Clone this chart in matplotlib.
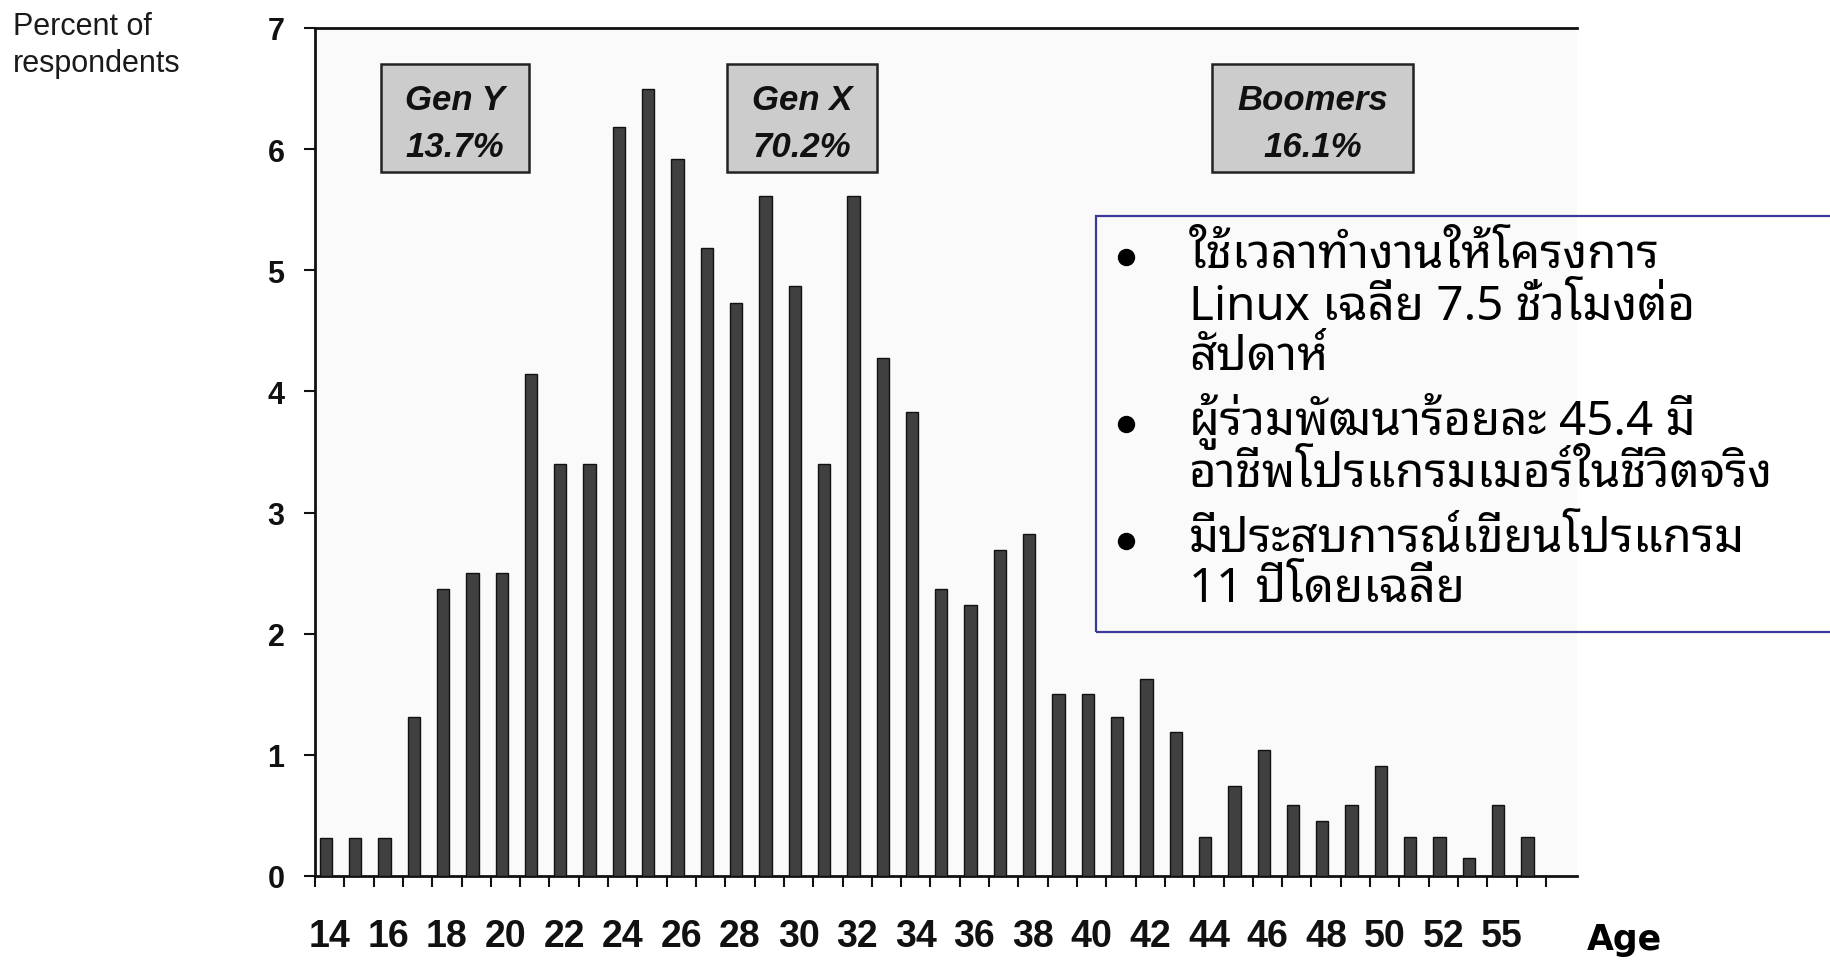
import matplotlib
matplotlib.use('Agg')
import matplotlib.pyplot as plt
from matplotlib import font_manager as fm
from matplotlib.ft2font import FT2Font
from matplotlib.patches import Rectangle
from matplotlib.lines import Line2D
import numpy as np

# ---------------- data ----------------
ages = list(range(14, 56))
percent = [0.31, 0.31, 0.31, 1.31, 2.37, 2.50, 2.50, 4.14,
           3.40, 3.40, 6.18, 6.50, 5.92, 5.18, 4.73, 5.61, 4.87, 3.40,
           5.61, 4.28, 3.83, 2.37, 2.24, 2.69,
           2.82, 1.50, 1.50, 1.31, 1.63, 1.19, 0.32, 0.74, 1.04, 0.59,
           0.45, 0.59, 0.91, 0.32, 0.32, 0.15, 0.59, 0.32]
tick_labels = ['14', '16', '18', '20', '22', '24', '26', '28', '30', '32', '34',
               '36', '38', '40', '42', '44', '46', '48', '50', '52', '55']
y_ticks = [0, 1, 2, 3, 4, 5, 6, 7]
generations = ['Gen Y', 'Gen X', 'Boomers']
gen_shares = ['13.7%', '70.2%', '16.1%']
note_bullets = [
    ['ใช้เวลาทำงานให้โครงการ', 'Linux เฉลี่ย 7.5 ชั่วโมงต่อ', 'สัปดาห์'],
    ['ผู้ร่วมพัฒนาร้อยละ 45.4 มี', 'อาชีพโปรแกรมเมอร์ในชีวิตจริง'],
    ['มีประสบการณ์เขียนโปรแกรม', '11 ปีโดยเฉลี่ย'],
]
y_label_lines = ['Percent of', 'respondents']
x_label = 'Age'

# ---------------- fonts ----------------
def has_thai(path):
    try:
        cm = FT2Font(path).get_charmap()
        return 0x0E01 in cm and 0x0E49 in cm
    except Exception:
        return False

thai = {}
for f in fm.fontManager.ttflist:
    if f.name not in thai and has_thai(f.fname):
        thai[f.name] = f
prefs = ['Noto Sans Thai Looped', 'Noto Sans Thai', 'Noto Sans Thai UI',
         'Loma', 'Garuda', 'Norasi', 'Laksaman', 'Kinnari', 'Sawasdee']
thai_family = next((p for p in prefs if p in thai), next(iter(thai), 'DejaVu Sans'))

SANS = ['Liberation Sans', 'Arial', 'DejaVu Sans']

W, H = 1830, 962
fig = plt.figure(figsize=(W / 100, H / 100), dpi=100)
fig.patch.set_facecolor('white')

def fx(px):
    return px / W

def fy(py):
    return 1 - py / H

ax_left, ax_right, ax_top, ax_bottom = 315, 1577, 29, 877
ax = fig.add_axes([fx(ax_left), fy(ax_bottom), fx(ax_right - ax_left), (ax_bottom - ax_top) / H])
ax.set_facecolor('#fafafa')

x = np.arange(len(ages))
ax.bar(x - 0.13, percent, width=0.42, color='#404040', edgecolor='#111111',
       linewidth=1.0, zorder=3)

ax.set_xlim(-0.5, 42.56)
ax.set_ylim(0, 7)

for s in ['left', 'top', 'bottom']:
    ax.spines[s].set_linewidth(2.0)
    ax.spines[s].set_color('#111111')
ax.spines['right'].set_visible(False)

ax.set_yticks(y_ticks)
ax.set_yticklabels([str(v) for v in y_ticks], fontfamily=SANS, fontweight='bold',
                   fontsize=22)
ax.tick_params(axis='y', direction='out', length=8, width=1.5, pad=14, colors='#111111')

ax.set_xticks(x[::2])
ax.set_xticklabels(tick_labels, fontfamily=SANS, fontweight='bold', fontsize=27)
ax.set_xticks(np.arange(len(ages) + 1) - 0.5, minor=True)
ax.tick_params(axis='x', which='major', length=0, pad=30, colors='#111111')
ax.tick_params(axis='x', which='minor', direction='out', length=8, width=1.5,
               colors='#111111')

# axis texts
for line, b in zip(y_label_lines, [35, 72]):
    fig.text(fx(13), fy(b), line, fontfamily=SANS, fontsize=22, color='#1a1a1a',
             ha='left', va='baseline')
fig.text(fx(1587), fy(950), x_label, fontfamily=['DejaVu Sans'], fontweight='bold',
         fontsize=25, color='black', ha='left', va='baseline')

# generation boxes
boxes = [(381, 529), (727, 877), (1212, 1413)]
for (l, r), name, share in zip(boxes, generations, gen_shares):
    fig.add_artist(Rectangle((fx(l), fy(173)), fx(r - l), (173 - 65) / H,
                             transform=fig.transFigure, facecolor='#cccccc',
                             edgecolor='#222222', linewidth=1.8, zorder=5))
    cx = fx((l + r) / 2)
    fig.text(cx, fy(110), name, fontfamily=SANS, fontstyle='italic', fontweight='bold',
             fontsize=25, ha='center', va='baseline', color='#111111', zorder=6)
    fig.text(cx, fy(157), share, fontfamily=SANS, fontstyle='italic', fontweight='bold',
             fontsize=25, ha='center', va='baseline', color='#111111', zorder=6)

# note box
fig.add_artist(Rectangle((fx(1096), fy(633)), fx(800), (633 - 217) / H,
                         transform=fig.transFigure, facecolor='none',
                         edgecolor='#3a3a9a', linewidth=1.6, zorder=5))
baselines = [[268, 320, 370], [435, 487], [552, 602]]
thai_texts = []
base_fs = 30
for lines, bl in zip(note_bullets, baselines):
    fig.add_artist(Line2D([fx(1126)], [fy(bl[0] - 10)], marker='o', markersize=11.5,
                          color='black', transform=fig.transFigure, zorder=6))
    for line, b in zip(lines, bl):
        t = fig.text(fx(1189), fy(b), line, fontfamily=[thai_family, 'DejaVu Sans'],
                     fontsize=base_fs, ha='left', va='baseline', zorder=6)
        thai_texts.append(t)

fig.canvas.draw()
r = fig.canvas.get_renderer()
w_ref = thai_texts[4].get_window_extent(r).width
scale = 585 / w_ref if w_ref > 0 else 1
for t in thai_texts:
    t.set_fontsize(base_fs * scale)

fig.savefig('out.png', dpi=100, facecolor='white')
